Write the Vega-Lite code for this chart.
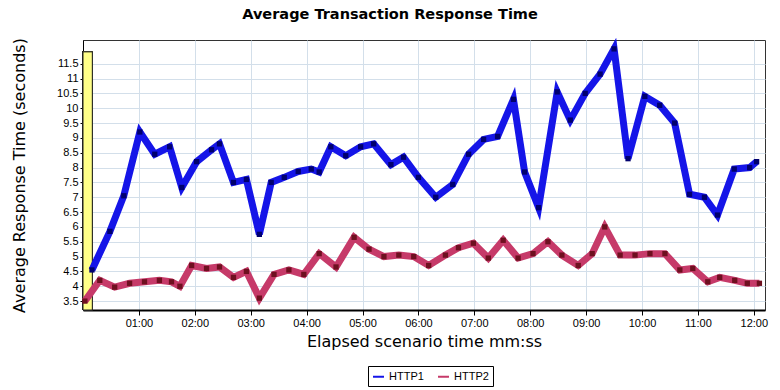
{
  "$schema": "https://vega.github.io/schema/vega-lite/v6.json",
  "width": 682,
  "height": 270,
  "autosize": "none",
  "padding": {"left": 83, "top": 40, "right": 15, "bottom": 80},
  "background": "white",
  "title": {"text": "Average Transaction Response Time", "font": "DejaVu Sans", "fontSize": 14.5, "fontWeight": "bold", "color": "black", "anchor": "middle", "dx": -34, "offset": 12},
  "config": {
    "view": {"stroke": "#333", "strokeWidth": 1},
    "axis": {"labelFont": "Liberation Sans", "labelFontSize": 11, "labelColor": "black", "titleFont": "DejaVu Sans", "titleFontSize": 16, "titleFontWeight": "normal", "titleColor": "black", "gridColor": "#d3dfea", "gridWidth": 1, "domainColor": "black", "tickColor": "black"}
  },
  "data": {"values": [
    {"t": 9.6, "s": "HTTP1", "v": 4.55}, {"t": 28.9, "s": "HTTP1", "v": 5.85}, {"t": 43.8, "s": "HTTP1", "v": 7.05}, {"t": 61, "s": "HTTP1", "v": 9.2},
    {"t": 77, "s": "HTTP1", "v": 8.45}, {"t": 93, "s": "HTTP1", "v": 8.7}, {"t": 106, "s": "HTTP1", "v": 7.33}, {"t": 122, "s": "HTTP1", "v": 8.2},
    {"t": 138, "s": "HTTP1", "v": 8.6}, {"t": 146.5, "s": "HTTP1", "v": 8.8}, {"t": 161.5, "s": "HTTP1", "v": 7.5}, {"t": 175.4, "s": "HTTP1", "v": 7.6},
    {"t": 189.3, "s": "HTTP1", "v": 5.75}, {"t": 202, "s": "HTTP1", "v": 7.5}, {"t": 216, "s": "HTTP1", "v": 7.67}, {"t": 231, "s": "HTTP1", "v": 7.87},
    {"t": 245, "s": "HTTP1", "v": 7.95}, {"t": 253.5, "s": "HTTP1", "v": 7.85}, {"t": 266, "s": "HTTP1", "v": 8.7}, {"t": 282, "s": "HTTP1", "v": 8.4},
    {"t": 298, "s": "HTTP1", "v": 8.7}, {"t": 312, "s": "HTTP1", "v": 8.8}, {"t": 330.5, "s": "HTTP1", "v": 8.1}, {"t": 344, "s": "HTTP1", "v": 8.35},
    {"t": 360, "s": "HTTP1", "v": 7.67}, {"t": 378.6, "s": "HTTP1", "v": 7.0}, {"t": 396.8, "s": "HTTP1", "v": 7.43}, {"t": 413.9, "s": "HTTP1", "v": 8.45},
    {"t": 430, "s": "HTTP1", "v": 8.95}, {"t": 445, "s": "HTTP1", "v": 9.05}, {"t": 462, "s": "HTTP1", "v": 10.3}, {"t": 474, "s": "HTTP1", "v": 7.85},
    {"t": 489, "s": "HTTP1", "v": 6.65}, {"t": 509, "s": "HTTP1", "v": 10.55}, {"t": 523, "s": "HTTP1", "v": 9.6}, {"t": 539, "s": "HTTP1", "v": 10.5},
    {"t": 555, "s": "HTTP1", "v": 11.15}, {"t": 570, "s": "HTTP1", "v": 12.0}, {"t": 585, "s": "HTTP1", "v": 8.3}, {"t": 603, "s": "HTTP1", "v": 10.4},
    {"t": 619, "s": "HTTP1", "v": 10.1}, {"t": 635, "s": "HTTP1", "v": 9.5}, {"t": 651, "s": "HTTP1", "v": 7.1}, {"t": 667, "s": "HTTP1", "v": 7.0},
    {"t": 681, "s": "HTTP1", "v": 6.4}, {"t": 699, "s": "HTTP1", "v": 7.95}, {"t": 715.5, "s": "HTTP1", "v": 8.0}, {"t": 723, "s": "HTTP1", "v": 8.2},
    {"t": 2, "s": "HTTP2", "v": 3.5}, {"t": 18, "s": "HTTP2", "v": 4.2}, {"t": 34, "s": "HTTP2", "v": 3.97}, {"t": 50, "s": "HTTP2", "v": 4.1},
    {"t": 66, "s": "HTTP2", "v": 4.15}, {"t": 82, "s": "HTTP2", "v": 4.2}, {"t": 95, "s": "HTTP2", "v": 4.15}, {"t": 104, "s": "HTTP2", "v": 4.0},
    {"t": 116.6, "s": "HTTP2", "v": 4.7}, {"t": 132.6, "s": "HTTP2", "v": 4.6}, {"t": 146.5, "s": "HTTP2", "v": 4.65}, {"t": 161.5, "s": "HTTP2", "v": 4.3},
    {"t": 175.4, "s": "HTTP2", "v": 4.5}, {"t": 189.3, "s": "HTTP2", "v": 3.6}, {"t": 205, "s": "HTTP2", "v": 4.4}, {"t": 221, "s": "HTTP2", "v": 4.55},
    {"t": 237, "s": "HTTP2", "v": 4.4}, {"t": 253.5, "s": "HTTP2", "v": 5.1}, {"t": 271.6, "s": "HTTP2", "v": 4.65}, {"t": 291, "s": "HTTP2", "v": 5.65},
    {"t": 307, "s": "HTTP2", "v": 5.25}, {"t": 323, "s": "HTTP2", "v": 5.0}, {"t": 339, "s": "HTTP2", "v": 5.05}, {"t": 355, "s": "HTTP2", "v": 5.0},
    {"t": 371, "s": "HTTP2", "v": 4.7}, {"t": 389, "s": "HTTP2", "v": 5.05}, {"t": 403, "s": "HTTP2", "v": 5.3}, {"t": 419, "s": "HTTP2", "v": 5.45},
    {"t": 435, "s": "HTTP2", "v": 4.95}, {"t": 451, "s": "HTTP2", "v": 5.55}, {"t": 467, "s": "HTTP2", "v": 4.95}, {"t": 483, "s": "HTTP2", "v": 5.1},
    {"t": 499, "s": "HTTP2", "v": 5.5}, {"t": 514, "s": "HTTP2", "v": 5.05}, {"t": 531.5, "s": "HTTP2", "v": 4.7}, {"t": 546.5, "s": "HTTP2", "v": 5.1},
    {"t": 560, "s": "HTTP2", "v": 6.0}, {"t": 576.5, "s": "HTTP2", "v": 5.05}, {"t": 592.5, "s": "HTTP2", "v": 5.05}, {"t": 608.5, "s": "HTTP2", "v": 5.1},
    {"t": 624.6, "s": "HTTP2", "v": 5.1}, {"t": 640.6, "s": "HTTP2", "v": 4.55}, {"t": 654.5, "s": "HTTP2", "v": 4.6}, {"t": 670.6, "s": "HTTP2", "v": 4.15},
    {"t": 683.4, "s": "HTTP2", "v": 4.3}, {"t": 699.5, "s": "HTTP2", "v": 4.2}, {"t": 713, "s": "HTTP2", "v": 4.1}, {"t": 726, "s": "HTTP2", "v": 4.1}
  ]},
  "encoding": {
    "x": {"field": "t", "type": "quantitative", "scale": {"domain": [0, 732], "nice": false, "zero": false},
      "axis": {"title": "Elapsed scenario time mm:ss", "values": [60,120,180,240,300,360,420,480,540,600,660,720], "labelExpr": "(datum.value < 600 ? '0' : '') + floor(datum.value/60) + ':00'", "domainWidth": 2, "tickSize": 5, "labelPadding": 2, "titlePadding": 5}},
    "y": {"field": "v", "type": "quantitative", "scale": {"domain": [3.2, 12.3], "nice": false, "zero": false},
      "axis": {"title": "Average Response Time (seconds)", "format": "~g", "values": [3.5,4,4.5,5,5.5,6,6.5,7,7.5,8,8.5,9,9.5,10,10.5,11,11.5], "tickSize": 3, "labelPadding": 2, "titlePadding": 29}}
  },
  "layer": [
    {"mark": {"type": "rect", "fill": "#ffff88", "stroke": "#222", "strokeWidth": 1},
      "encoding": {"x": {"datum": 0}, "x2": {"datum": 10}, "y": {"datum": 3.2}, "y2": {"datum": 11.9}}},
    {"mark": {"type": "line", "strokeWidth": 7, "strokeJoin": "miter"},
      "encoding": {"color": {"field": "s", "type": "nominal", "scale": {"domain": ["HTTP1", "HTTP2"], "range": ["#1515e8", "#c63a69"]},
        "legend": {"title": null, "orient": "none", "legendX": 285, "legendY": 326, "direction": "horizontal", "symbolType": "stroke", "symbolStrokeWidth": 2, "symbolSize": 120, "labelFont": "Liberation Sans", "labelFontSize": 11, "labelColor": "black", "strokeColor": "black", "padding": 4, "columnPadding": 10, "fillColor": "white"}}}},
    {"mark": {"type": "point", "shape": "square", "filled": true, "size": 28, "opacity": 1},
      "encoding": {"fill": {"field": "s", "type": "nominal", "scale": {"domain": ["HTTP1", "HTTP2"], "range": ["#00006e", "#6e1020"]}, "legend": null}}}
  ]
}
